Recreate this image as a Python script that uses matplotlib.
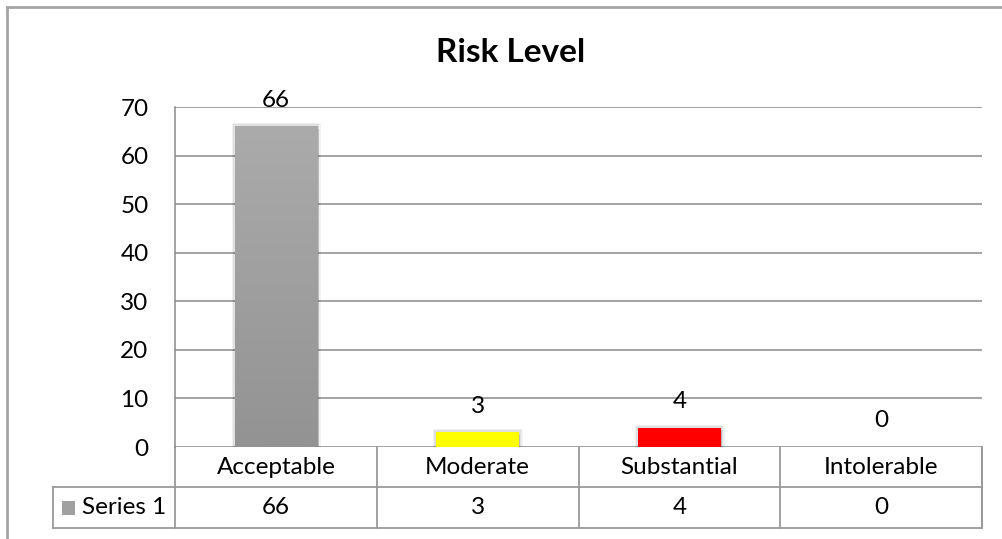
import numpy as np
import matplotlib
matplotlib.use("Agg")
import matplotlib.pyplot as plt
import matplotlib.patheffects as pe
from matplotlib.lines import Line2D
from matplotlib.patches import Rectangle
from matplotlib import transforms

plt.rcParams['font.family'] = ['Lato', 'DejaVu Sans']

categories = ["Acceptable", "Moderate", "Substantial", "Intolerable"]
values = [66, 3, 4, 0]
series_name = "Series 1"
yticks = [0, 10, 20, 30, 40, 50, 60, 70]

grid_col = "#8a8a8a"
table_col = "#9a9a9a"
fs = 17.5

W, H = 1002, 539
fig = plt.figure(figsize=(W / 100, H / 100), dpi=100)

# plot area in pixels: x 175..982, y 107..447
left, right, top, bottom = 175, 982, 107, 447
ax = fig.add_axes([left / W, (H - bottom) / H, (right - left) / W, (bottom - top) / H])

x = np.arange(len(categories))
bw = 0.41
# soft shadow around the bars
shadow = [pe.withStroke(linewidth=5, foreground="#000000", alpha=0.05),
          pe.withStroke(linewidth=3, foreground="#000000", alpha=0.08),
          pe.SimplePatchShadow(offset=(1, -1.5), shadow_rgbFace="#555555", alpha=0.25),
          pe.Normal()]

# first bar: grey with vertical gradient
colors = ["#a0a0a0", "#ffff00", "#ff0000", "#ffffff"]
bars = ax.bar(x[:3], values[:3], width=bw, color=colors[:3], edgecolor="none", zorder=3, path_effects=shadow)
grad = np.linspace(0, 1, 256).reshape(-1, 1)
ax.imshow(grad, cmap=matplotlib.colors.LinearSegmentedColormap.from_list("g", ["#ababab", "#939393"]),
          extent=[x[0] - bw / 2, x[0] + bw / 2, 0, values[0]], aspect="auto", origin="upper", zorder=4)

ax.set_xlim(-0.5, len(categories) - 0.5)
ax.set_ylim(0, 70)
ax.set_yticks(yticks)
ax.set_xticks([])
ax.tick_params(axis="y", length=0, pad=19, labelsize=fs)
ax.yaxis.grid(True, color=grid_col, linewidth=1.1, zorder=0)
ax.set_axisbelow(True)
for s in ["top", "right", "bottom"]:
    ax.spines[s].set_visible(False)
ax.spines["left"].set_color(grid_col)
ax.spines["left"].set_linewidth(1.1)

# value labels above bars
for xi, v in zip(x, values):
    ax.annotate(str(v), (xi, v), xytext=(0, 19), textcoords="offset points",
                ha="center", va="center", fontsize=fs, zorder=5)

fig.text(511 / W, 1 - 53 / H, "Risk Level", ha="center", va="center", fontsize=24, fontweight="bold")

# data table under the axis
tr = transforms.blended_transform_factory(ax.transData, ax.transAxes)
r1 = -40 / 340
r2 = -81 / 340
xl = -0.5 - 122 / 201.75
xr = len(categories) - 0.5

def tline(xs, ys):
    ax.add_line(Line2D(xs, ys, transform=tr, color=table_col, lw=1.3, clip_on=False))

tline([-0.5, -0.5], [0, r2])
for b in np.arange(0.5, len(categories), 1.0):
    tline([b, b], [0, r2])
tline([xr, xr], [0, r2])
tline([xl, xr], [r1, r1])
tline([xl, xr], [r2, r2])
tline([xl, xl], [r1, r2])

for xi, c, v in zip(x, categories, values):
    ax.text(xi, r1 / 2, c, transform=tr, ha="center", va="center", fontsize=fs)
    ax.text(xi, (r1 + r2) / 2, str(v), transform=tr, ha="center", va="center", fontsize=fs)

# legend key + series name
kx = xl + 9 / 201.75
ky = (r1 + r2) / 2
ax.add_patch(Rectangle((kx, ky - 7 / 340), 13 / 201.75, 14 / 340, transform=tr,
                       facecolor="#a0a0a0", edgecolor="none", clip_on=False))
ax.text(kx + 20 / 201.75, ky, series_name, transform=tr, ha="left", va="center", fontsize=fs)

# chart border (top and left)
fig.add_artist(Line2D([7 / W, 1], [1 - 7 / H, 1 - 7 / H], color="#a6a6a6", lw=2))
fig.add_artist(Line2D([7 / W, 7 / W], [0, 1 - 7 / H], color="#a6a6a6", lw=2))

fig.savefig("out.png", dpi=100)
